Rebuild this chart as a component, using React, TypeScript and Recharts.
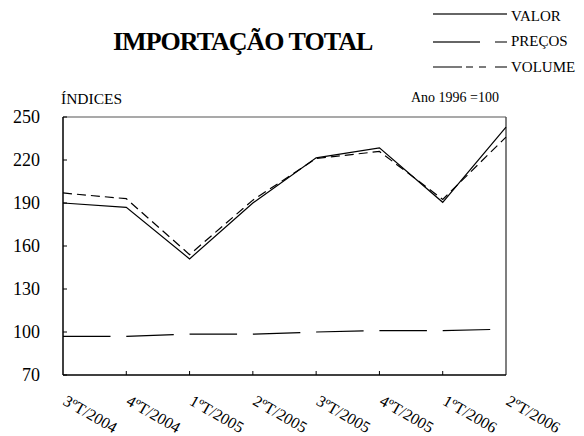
import React from 'react';
import { LineChart, Line, XAxis, YAxis, ReferenceLine } from 'recharts';

const categories = ['3ºT/2004', '4ºT/2004', '1ºT/2005', '2ºT/2005', '3ºT/2005', '4ºT/2005', '1ºT/2006', '2ºT/2006'];
const valor = [190, 187, 151, 190, 221.5, 228.5, 190.5, 243];
const volume = [197, 193, 154, 192, 221, 226, 192.5, 236];
const precos = [97, 97, 98.5, 98.5, 100, 101, 101, 102];
const yTicks = [70, 100, 130, 160, 190, 220, 250];

const data = categories.map((c, i) => ({ cat: c, valor: valor[i], volume: volume[i], precos: precos[i] }));

const FONT = 'Liberation Serif';
const fs = (size: number, extra: any = {}) => ({ fontFamily: FONT, fontSize: size, ...extra });

const XTick = (props: any) => {
  const { x, y, payload, index } = props;
  const n = categories.length;
  const ox = x - 1;
  const oy = y + 29;
  return (
    <g>
      {index > 0 && index < n - 1 && <line x1={x} x2={x} y1={y} y2={y - 4} stroke="#000" strokeWidth={1} />}
      <text x={ox} y={oy} transform={`rotate(30 ${ox} ${oy})`} style={fs(16)} fill="#000">
        {payload.value}
      </text>
    </g>
  );
};

const YTick = (props: any) => {
  const { x, y, payload } = props;
  return (
    <g>
      <line x1={x} x2={x + 4} y1={y} y2={y} stroke="#000" strokeWidth={1} />
      <text x={x - 23} y={y} dy="0.35em" textAnchor="end" style={fs(18)} fill="#000">
        {payload.value}
      </text>
    </g>
  );
};

export default function App() {
  return (
    <div style={{ position: 'absolute', left: 0, top: 0, width: 584, height: 436, background: '#fff' }}>
      <LineChart width={584} height={436} data={data} margin={{ top: 117, right: 78, bottom: 0, left: 0 }}>
        <XAxis
          dataKey="cat"
          height={61}
          interval={0}
          tickSize={0}
          tickMargin={0}
          tickLine={false}
          axisLine={{ stroke: '#000', strokeWidth: 1.5 }}
          tick={<XTick />}
          padding={{ left: 0, right: 0 }}
        />
        <YAxis
          width={63}
          domain={[70, 250]}
          ticks={yTicks}
          interval={0}
          tickSize={0}
          tickMargin={0}
          tickLine={false}
          axisLine={{ stroke: '#000', strokeWidth: 1.5 }}
          tick={<YTick />}
        />
        <ReferenceLine y={250} stroke="#555" strokeWidth={1.2} />
        <ReferenceLine x={categories[categories.length - 1]} stroke="#555" strokeWidth={1.5} />
        <Line type="linear" dataKey="precos" stroke="#000" strokeWidth={1.2} strokeDasharray="47.5 15.8" dot={false} activeDot={false} isAnimationActive={false} />
        <Line type="linear" dataKey="volume" stroke="#000" strokeWidth={1.2} strokeDasharray="9 5" dot={false} activeDot={false} isAnimationActive={false} />
        <Line type="linear" dataKey="valor" stroke="#000" strokeWidth={1.2} dot={false} activeDot={false} isAnimationActive={false} />
      </LineChart>
      <svg width={584} height={436} style={{ position: 'absolute', left: 0, top: 0, pointerEvents: 'none' }}>
        <text x={113} y={50} style={fs(26, { fontWeight: 'bold', letterSpacing: -1 })} fill="#000">
          IMPORTAÇÃO TOTAL
        </text>
        <g stroke="#333" strokeWidth={1.3}>
          <line x1={433} x2={507} y1={14} y2={14} />
          <line x1={433} x2={480} y1={42} y2={42} />
          <line x1={495} x2={507} y1={42} y2={42} />
          <line x1={433} x2={462} y1={67} y2={67} />
          <line x1={466} x2={473} y1={67} y2={67} />
          <line x1={479} x2={486} y1={67} y2={67} />
          <line x1={495} x2={507} y1={67} y2={67} />
        </g>
        <text x={511} y={20.5} style={fs(15)} fill="#000">VALOR</text>
        <text x={511} y={46} style={fs(15)} fill="#000">PREÇOS</text>
        <text x={511} y={71.5} style={fs(15)} fill="#000">VOLUME</text>
        <text x={61} y={104} style={fs(15.5)} fill="#000">ÍNDICES</text>
        <text x={411} y={102} style={fs(14)} fill="#000">Ano 1996 =100</text>
      </svg>
    </div>
  );
}
